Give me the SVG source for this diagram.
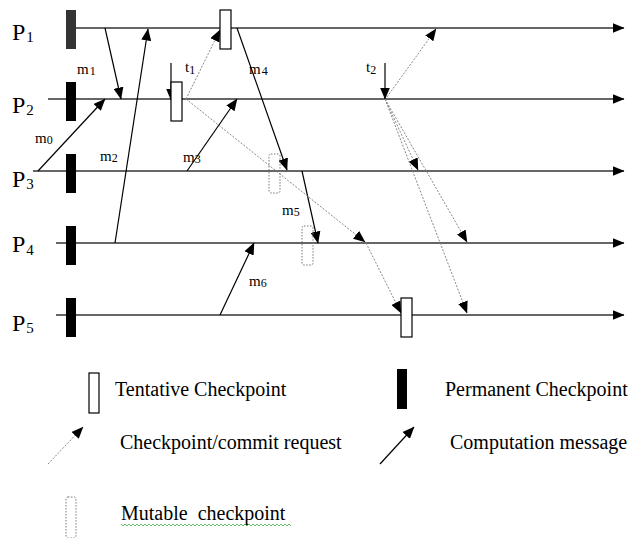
<svg xmlns="http://www.w3.org/2000/svg" width="629" height="538" viewBox="0 0 629 538">
<defs>
<marker id="ah" markerUnits="userSpaceOnUse" markerWidth="12" markerHeight="10" refX="11.5" refY="5" orient="auto"><path d="M0,0 L12,5 L0,10 z" fill="#000"/></marker>
<style>
.tl{stroke:#333;stroke-width:1.6;fill:none}
.msg{stroke:#000;stroke-width:1.2;fill:none}
.req{stroke:#888;stroke-width:1;stroke-dasharray:2,1.5;fill:none}
.perm{fill:#000}
.tent{fill:#fff;stroke:#000;stroke-width:1.2}
.mut{fill:none;stroke:#777;stroke-width:1;stroke-dasharray:1.5,1.5}
text{font-family:"Liberation Serif","Times New Roman",serif;fill:#000}
.pl{font-size:24px}
.ps{font-size:15px}
.ml{font-size:15px}
.ms{font-size:12px}
.lg{font-size:20px}
</style>
</defs>
<rect width="629" height="538" fill="#fff"/>

<g id="timelines">
<line class="tl" x1="70" y1="28" x2="624" y2="28" marker-end="url(#ah)"/>
<line class="tl" x1="48" y1="99" x2="624" y2="99" marker-end="url(#ah)"/>
<line class="tl" x1="33" y1="171" x2="624" y2="171" marker-end="url(#ah)"/>
<line class="tl" x1="56" y1="243" x2="624" y2="243" marker-end="url(#ah)"/>
<line class="tl" x1="56" y1="315" x2="624" y2="315" marker-end="url(#ah)"/>
</g>

<g id="process-labels">
<text class="pl" x="12" y="40">P<tspan class="ps" dx="1" dy="2">1</tspan></text>
<text class="pl" x="12" y="113">P<tspan class="ps" dx="1" dy="2">2</tspan></text>
<text class="pl" x="12" y="187">P<tspan class="ps" dx="1" dy="2">3</tspan></text>
<text class="pl" x="12" y="252">P<tspan class="ps" dx="1" dy="3">4</tspan></text>
<text class="pl" x="12" y="331">P<tspan class="ps" dx="1" dy="2">5</tspan></text>
</g>

<g id="connectors">
<line class="msg" x1="105" y1="28" x2="121" y2="99" marker-end="url(#ah)"/>
<line class="msg" x1="115" y1="243" x2="148" y2="29" marker-end="url(#ah)"/>
<line class="msg" x1="38" y1="171" x2="105" y2="99" marker-end="url(#ah)"/>
<line class="msg" x1="187" y1="171" x2="237" y2="99" marker-end="url(#ah)"/>
<line class="msg" x1="237" y1="28" x2="287" y2="170" marker-end="url(#ah)"/>
<line class="msg" x1="302" y1="171" x2="318" y2="243" marker-end="url(#ah)"/>
<line class="msg" x1="220" y1="315" x2="254" y2="243" marker-end="url(#ah)"/>
<line class="msg" x1="171" y1="63" x2="171" y2="100" marker-end="url(#ah)"/>
<line class="msg" x1="385" y1="63" x2="385" y2="99" marker-end="url(#ah)"/>
<line class="req" x1="186" y1="99" x2="220" y2="30" marker-end="url(#ah)"/>
<line class="req" x1="186" y1="99" x2="365" y2="242" marker-end="url(#ah)"/>
<line class="req" x1="366" y1="243" x2="401" y2="313" marker-end="url(#ah)"/>
<line class="req" x1="387" y1="97" x2="436" y2="29" marker-end="url(#ah)"/>
<line class="req" x1="385" y1="99" x2="418" y2="170" marker-end="url(#ah)"/>
<line class="req" x1="385" y1="99" x2="467" y2="242" marker-end="url(#ah)"/>
<line class="req" x1="385" y1="99" x2="467" y2="313" marker-end="url(#ah)"/>
</g>

<g id="message-labels">
<text class="ml" x="77" y="74">m<tspan class="ms" dx="1" dy="1">1</tspan></text>
<text class="ml" x="249" y="74">m<tspan class="ms" dx="1" dy="1">4</tspan></text>
<text class="ml" x="35" y="143">m<tspan class="ms" dx="0" dy="1">0</tspan></text>
<text class="ml" x="100" y="161">m<tspan class="ms" dx="0" dy="1">2</tspan></text>
<text class="ml" x="183" y="162">m<tspan class="ms" dx="0" dy="1">3</tspan></text>
<text class="ml" x="282" y="215">m<tspan class="ms" dx="0" dy="1">5</tspan></text>
<text class="ml" x="249" y="286">m<tspan class="ms" dx="0" dy="1">6</tspan></text>
<text class="ml" x="185" y="72">t<tspan class="ms" dx="0" dy="2">1</tspan></text>
<text class="ml" x="366" y="72">t<tspan class="ms" dx="0" dy="2">2</tspan></text>
</g>

<g id="permanent-checkpoints">
<rect x="66" y="10" width="10" height="39" fill="#333"/>
<rect class="perm" x="66" y="82" width="10" height="39"/>
<rect class="perm" x="66" y="154" width="10" height="39"/>
<rect class="perm" x="66" y="226" width="10" height="39"/>
<rect class="perm" x="66" y="298" width="10" height="39"/>
</g>

<g id="tentative-checkpoints">
<rect class="tent" x="220" y="10" width="11" height="39"/>
<rect class="tent" x="171" y="82" width="11" height="39"/>
<rect class="tent" x="401" y="298" width="11" height="39"/>
</g>

<g id="mutable-checkpoints">
<rect class="mut" x="269" y="154" width="11" height="39" rx="2"/>
<rect class="mut" x="302" y="226" width="11" height="39" rx="2"/>
</g>

<g id="legend">
<rect class="tent" x="89" y="373" width="10" height="40"/>
<text class="lg" x="115" y="396">Tentative Checkpoint</text>
<rect class="perm" x="397" y="369" width="10" height="40"/>
<text class="lg" x="445" y="396">Permanent Checkpoint</text>
<line class="req" x1="48" y1="464" x2="83" y2="427" marker-end="url(#ah)"/>
<text class="lg" x="120" y="449">Checkpoint/commit request</text>
<line class="msg" x1="380" y1="464" x2="414" y2="427" marker-end="url(#ah)"/>
<text class="lg" x="450" y="449">Computation message</text>
<rect class="mut" x="66" y="497" width="10" height="41" rx="2"/>
<text class="lg" x="121" y="520">Mutable&#160; checkpoint</text>
<path d="M121,524 l2,2 l2,-2 l2,2 l2,-2 l2,2 l2,-2 l2,2 l2,-2 l2,2 l2,-2 l2,2 l2,-2 l2,2 l2,-2 l2,2 l2,-2 l2,2 l2,-2 l2,2 l2,-2 l2,2 l2,-2 l2,2 l2,-2 l2,2 l2,-2 l2,2 l2,-2 l2,2 l2,-2 l2,2 l2,-2 l2,2 l2,-2 l2,2 l2,-2 l2,2 l2,-2 l2,2 l2,-2 l2,2 l2,-2 l2,2 l2,-2 l2,2 l2,-2 l2,2 l2,-2 l2,2 l2,-2 l2,2 l2,-2 l2,2 l2,-2 l2,2 l2,-2 l2,2 l2,-2 l2,2 l2,-2 l2,2 l2,-2 l2,2 l2,-2 l2,2 l2,-2 l2,2 l2,-2 l2,2 l2,-2 l2,2 l2,-2 l2,2 l2,-2 l2,2 l2,-2 l2,2 l2,-2 l2,2 l2,-2 l2,2 l2,-2 l2,2 l2,-2 l2,2" fill="none" stroke="#4a4" stroke-width="0.8"/>
</g>
</svg>
